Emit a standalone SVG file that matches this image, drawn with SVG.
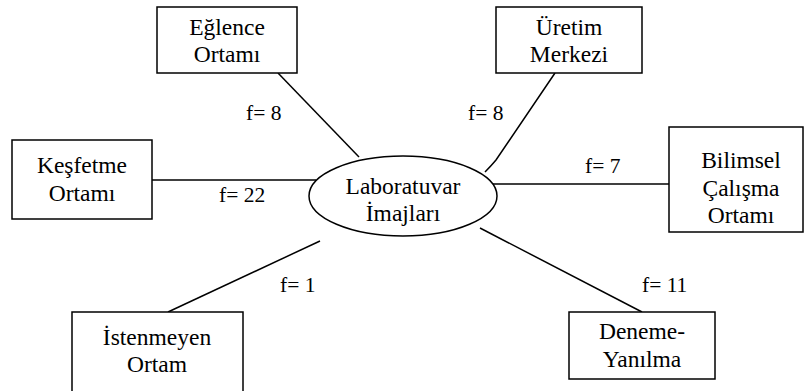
<svg xmlns="http://www.w3.org/2000/svg" width="806" height="391" viewBox="0 0 806 391">
<style>
.box{fill:#fff;stroke:#000;stroke-width:1.5}
.c{fill:none;stroke:#000;stroke-width:1.5}
</style>
<rect width="806" height="391" fill="#fff"/>
<g id="connectors">
<line class="c" x1="278" y1="73" x2="359" y2="157"/>
<path class="c" d="M555,73 L496,160 Q491,166 485,172"/>
<line class="c" x1="492" y1="184" x2="669" y2="184"/>
<line class="c" x1="152" y1="180" x2="316" y2="180"/>
<line class="c" x1="168" y1="312" x2="320" y2="241"/>
<line class="c" x1="480" y1="228" x2="642" y2="312"/>
<g font-family="'Liberation Serif', 'Times New Roman', serif" font-size="21.5" fill="#000">
<text x="246" y="120">f= 8</text>
<text x="468" y="120">f= 8</text>
<text x="219" y="202">f= 22</text>
<text x="585" y="173">f= 7</text>
<text x="280" y="292">f= 1</text>
<text x="642" y="292">f= 11</text>
</g>
</g>
<g font-family="'Liberation Serif', 'Times New Roman', serif" font-size="23.5" fill="#000" text-anchor="middle">
<g id="center">
<ellipse class="box" cx="403" cy="196" rx="94" ry="40"/>
<text x="403" y="194">Laboratuvar</text>
<text x="403" y="221">İmajları</text>
</g>
<g id="eglence">
<rect class="box" x="157" y="7" width="140" height="66"/>
<text x="227" y="35">Eğlence</text>
<text x="227" y="62">Ortamı</text>
</g>
<g id="uretim">
<rect class="box" x="496" y="7" width="146" height="66"/>
<text x="569" y="35">Üretim</text>
<text x="569" y="62">Merkezi</text>
</g>
<g id="kesfetme">
<rect class="box" x="12" y="140" width="140" height="79"/>
<text x="82" y="173">Keşfetme</text>
<text x="82" y="201">Ortamı</text>
</g>
<g id="bilimsel">
<rect class="box" x="669" y="127" width="134" height="105"/>
<text x="741" y="168">Bilimsel</text>
<text x="741" y="196">Çalışma</text>
<text x="741" y="223">Ortamı</text>
</g>
<g id="istenmeyen">
<rect class="box" x="72" y="312" width="171" height="90"/>
<text x="157" y="345">İstenmeyen</text>
<text x="157" y="372">Ortam</text>
</g>
<g id="deneme">
<rect class="box" x="569" y="312" width="146" height="67"/>
<text x="642" y="339">Deneme-</text>
<text x="642" y="367">Yanılma</text>
</g>
</g>
</svg>
